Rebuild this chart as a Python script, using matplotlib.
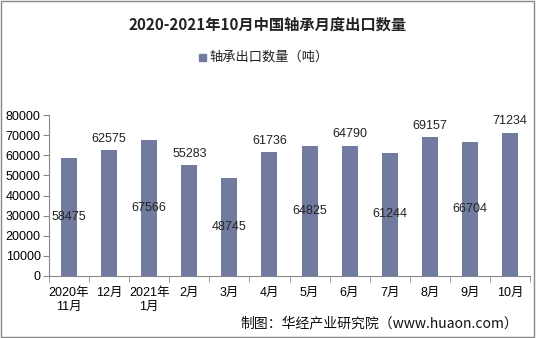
import numpy as np
import matplotlib.pyplot as plt
from matplotlib.patches import Rectangle

plt.rcParams['font.family'] = ['Liberation Sans', 'Noto Sans CJK SC', 'DejaVu Sans']

months = ['2020年\n11月', '12月', '2021年\n1月', '2月', '3月', '4月',
          '5月', '6月', '7月', '8月', '9月', '10月']
exports = [58475, 62575, 67566, 55283, 48745, 61736,
           64825, 64790, 61244, 69157, 66704, 71234]

bar_color = '#707b9f'

fig = plt.figure(figsize=(5.36, 3.38), dpi=100)
ax = fig.add_axes([49 / 536, 1 - 276 / 338, 481 / 536, 161 / 338])

x = np.arange(len(months))
ax.bar(x, exports, width=0.4, color=bar_color, zorder=2)

# alternate labels: inside at mid height, then above the bar
for i, v in enumerate(exports):
    if i % 2 == 0:
        ax.text(i, v / 2, str(v), ha='center', va='center', fontsize=9, color='#222222')
    else:
        ax.text(i, v + 2600, str(v), ha='center', va='bottom', fontsize=9, color='#222222')

ax.set_xlim(-0.5, len(months) - 0.5)
ax.set_ylim(0, 80000)
ax.set_yticks(np.arange(0, 80001, 10000))
ax.set_xticks(x)
ax.set_xticklabels(months, fontsize=9)
ax.tick_params(axis='x', length=0, pad=8)
ax.set_xticks(np.arange(-0.5, len(months), 1), minor=True)
ax.tick_params(axis='x', which='minor', length=4, color='#888888')
ax.tick_params(axis='y', labelsize=9, length=4, color='#888888', pad=2)

for s in ['top', 'right']:
    ax.spines[s].set_visible(False)
for s in ['left', 'bottom']:
    ax.spines[s].set_color('#888888')
    ax.spines[s].set_linewidth(0.8)

fig.text(0.5, 1 - 25 / 338, '2020-2021年10月中国轴承月度出口数量', ha='center', va='center',
         fontsize=11, fontweight='bold', family=['Noto Sans CJK SC'], color='#222222')

# legend
fig.patches.append(Rectangle((199 / 536, 1 - 61 / 338), 7 / 536, 7 / 338,
                             transform=fig.transFigure, color=bar_color))
fig.text(209 / 536, 1 - 57 / 338, '轴承出口数量（吨）', ha='left', va='center',
         fontsize=9.5, family=['Noto Sans CJK SC'], color='#222222')

fig.text(518 / 536, 1 - 323 / 338, '制图：华经产业研究院（www.huaon.com）', ha='right', va='center',
         fontsize=10, family=['Noto Sans CJK SC', 'DejaVu Sans'], color='#111111')

# outer frame
fig.patches.append(Rectangle((0.002, 0.003), 0.995, 0.994, transform=fig.transFigure,
                             fill=False, edgecolor='#888888', linewidth=1))

fig.savefig('out.png', dpi=100)
